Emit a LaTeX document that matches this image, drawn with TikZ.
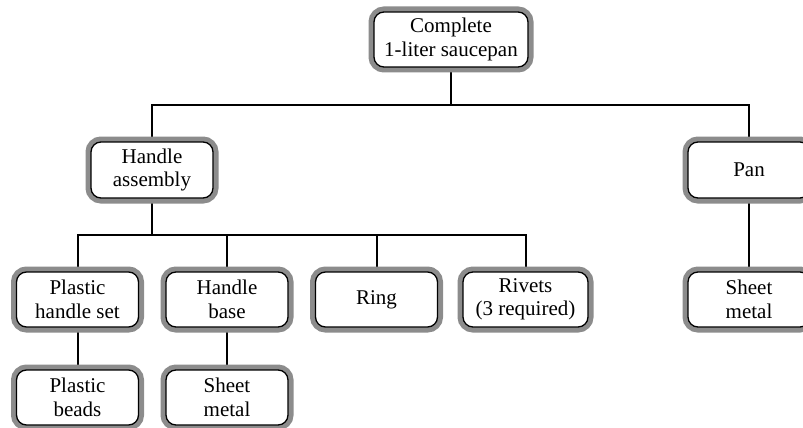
\documentclass[tikz,border=0pt]{standalone}
\usepackage{fontspec}
\setmainfont{Liberation Serif}
\usetikzlibrary{backgrounds}
\tikzset{
  partbox/.style={rectangle, rounded corners=10pt, draw=black, line width=1.3pt,
    fill=white, minimum width=122pt, minimum height=55pt, inner sep=0pt,
    align=center, font=\fontsize{21}{23.5}\selectfont,
    preaction={draw=black!45, line width=11pt}},
  link/.style={draw=black, line width=2pt}
}
\begin{document}
\begin{tikzpicture}[x=1pt,y=-1pt]
\useasboundingbox (0,0) rectangle (803,428);
\clip (0,0) rectangle (803,428);
\node[partbox, minimum width=154pt] (top) at (451,39.5) {Complete\\1-liter saucepan};
\node[partbox, minimum height=56pt] (ha) at (152,170) {Handle\\assembly};
\node[partbox, minimum height=56pt] (pan) at (749,170) {Pan};
\node[partbox] (phs) at (77.5,299.5) {Plastic\\handle set};
\node[partbox] (hb) at (227,299.5) {Handle\\base};
\node[partbox] (ring) at (376.5,299.5) {Ring};
\node[partbox, minimum width=125pt] (riv) at (525.5,299.5) {Rivets\\(3 required)};
\node[partbox] (psm) at (749,299.5) {Sheet\\metal};
\node[partbox] (pb) at (77.5,397.5) {Plastic\\beads};
\node[partbox] (hsm) at (227,397.5) {Sheet\\metal};
\coordinate (bus1) at (451,105);
\coordinate (bus2) at (152,235);
\begin{pgfonlayer}{background}
\draw[link] (top.south) -- (bus1);
\draw[link] (ha.north) |- (bus1) -| (pan.north);
\draw[link] (ha.south) -- (bus2);
\draw[link] (phs.north) |- (bus2) -| (riv.north);
\draw[link] (hb.north) -- (hb.north |- bus2);
\draw[link] (ring.north) -- (ring.north |- bus2);
\draw[link] (pan.south) -- (psm.north);
\draw[link] (phs.south) -- (pb.north);
\draw[link] (hb.south) -- (hsm.north);
\end{pgfonlayer}
\end{tikzpicture}
\end{document}
